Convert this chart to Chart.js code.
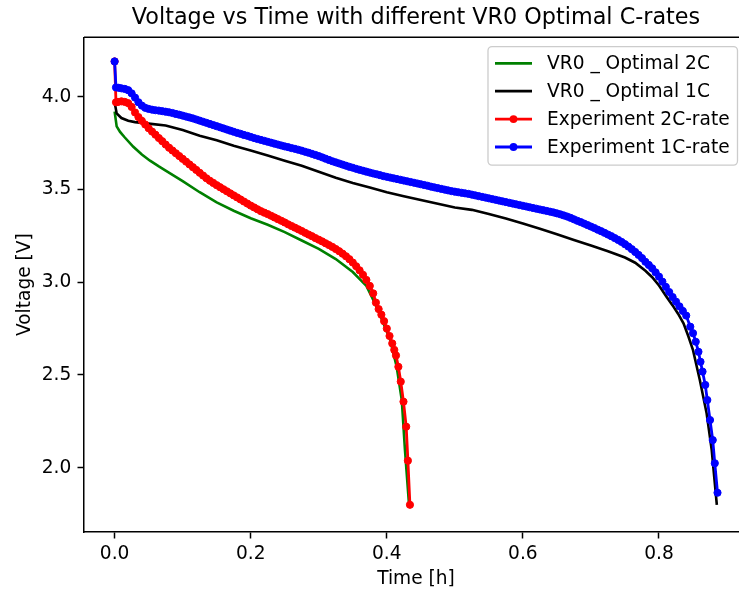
<!DOCTYPE html>
<html>
<head>
<meta charset="utf-8">
<script src="https://cdn.jsdelivr.net/npm/chart.js@4.4.0/dist/chart.umd.min.js"></script>
<style>
  html, body { margin: 0; background: #fff; overflow: hidden; }
  #wrap { width: 739px; height: 591px; overflow: hidden; position: relative; }
  #voltageChart { position: absolute; left: 0; top: 0; }
</style>
</head>
<body>
<div id="wrap"><canvas id="voltageChart" width="790" height="591"></canvas></div>
<script>
// VR0 optimal model, 2C
const modelTime2C = [0, 0.003, 0.008, 0.015, 0.0275, 0.04, 0.052, 0.065, 0.075, 0.1, 0.125, 0.15, 0.175, 0.2, 0.225, 0.25, 0.275, 0.3, 0.325, 0.35, 0.37, 0.378, 0.39, 0.405, 0.4145, 0.422, 0.4267, 0.433];
const modelVolt2C = [3.92, 3.84, 3.81, 3.78, 3.73, 3.688, 3.655, 3.624, 3.602, 3.545, 3.485, 3.43, 3.385, 3.345, 3.31, 3.27, 3.225, 3.18, 3.125, 3.055, 2.98, 2.92, 2.825, 2.688, 2.544, 2.365, 2.095, 1.785];

// VR0 optimal model, 1C
const modelTime1C = [0, 0.003, 0.01, 0.02, 0.03, 0.05, 0.075, 0.1, 0.125, 0.15, 0.175, 0.2, 0.225, 0.25, 0.275, 0.3, 0.325, 0.35, 0.375, 0.4, 0.425, 0.45, 0.475, 0.5, 0.525, 0.55, 0.575, 0.6, 0.625, 0.65, 0.675, 0.7, 0.725, 0.75, 0.765, 0.78, 0.79, 0.8, 0.811, 0.82, 0.828, 0.836, 0.843, 0.85, 0.86, 0.87, 0.8775, 0.885];
const modelVolt1C = [3.97, 3.91, 3.885, 3.87, 3.863, 3.855, 3.845, 3.82, 3.79, 3.765, 3.735, 3.71, 3.683, 3.655, 3.628, 3.595, 3.563, 3.535, 3.51, 3.485, 3.463, 3.443, 3.423, 3.403, 3.39, 3.368, 3.343, 3.316, 3.288, 3.258, 3.228, 3.198, 3.167, 3.133, 3.105, 3.062, 3.027, 2.982, 2.922, 2.875, 2.83, 2.778, 2.71, 2.634, 2.473, 2.293, 2.095, 1.80];

// experiment, 2C-rate
const expTime2C = [0, 0.002, 0.005, 0.01, 0.015, 0.02, 0.025, 0.03, 0.035, 0.04, 0.045, 0.05, 0.055, 0.06, 0.065, 0.07, 0.075, 0.08, 0.085, 0.09, 0.095, 0.1,
  0.105, 0.11, 0.115, 0.12, 0.125, 0.13, 0.135, 0.14, 0.145, 0.15, 0.155, 0.16, 0.165, 0.17, 0.175, 0.18, 0.185, 0.19, 0.195, 0.2,
  0.205, 0.21, 0.215, 0.22, 0.225, 0.23, 0.235, 0.24, 0.245, 0.25, 0.255, 0.26, 0.265, 0.27, 0.275, 0.28, 0.285, 0.29, 0.295, 0.3,
  0.305, 0.31, 0.315, 0.32, 0.325, 0.33, 0.335, 0.34, 0.345, 0.35, 0.355, 0.36, 0.365, 0.37, 0.375, 0.38,
  0.384, 0.388, 0.392, 0.396, 0.4, 0.404, 0.408, 0.411, 0.4135, 0.417, 0.4205, 0.4245, 0.4285, 0.431, 0.434];
const expVolt2C = [4.19, 3.97, 3.972, 3.975, 3.972, 3.965, 3.945, 3.915, 3.89, 3.87, 3.85, 3.83, 3.812, 3.795, 3.777, 3.76, 3.742, 3.725, 3.71, 3.695, 3.68, 3.665,
  3.65, 3.635, 3.62, 3.605, 3.59, 3.575, 3.56, 3.547, 3.535, 3.523, 3.512, 3.501, 3.49, 3.479, 3.468, 3.457, 3.446, 3.435, 3.424, 3.413,
  3.403, 3.393, 3.383, 3.375, 3.367, 3.358, 3.349, 3.34, 3.331, 3.322, 3.312, 3.303, 3.294, 3.285, 3.276, 3.266, 3.257, 3.248, 3.238, 3.229,
  3.22, 3.21, 3.2, 3.19, 3.179, 3.167, 3.154, 3.14, 3.124, 3.106, 3.086, 3.064, 3.04, 3.012, 2.98, 2.94,
  2.89, 2.855, 2.825, 2.79, 2.75, 2.71, 2.67, 2.635, 2.605, 2.544, 2.464, 2.356, 2.221, 2.038, 1.80];

// experiment, 1C-rate
const expTime1C = [0, 0.002, 0.006, 0.01, 0.015, 0.02, 0.025, 0.03, 0.035, 0.04, 0.045,
  0.05, 0.055, 0.06, 0.065, 0.07, 0.075, 0.08, 0.085, 0.09, 0.095, 0.1, 0.105, 0.11, 0.115, 0.12, 0.125, 0.13, 0.135, 0.14, 0.145,
  0.15, 0.155, 0.16, 0.165, 0.17, 0.175, 0.18, 0.185, 0.19, 0.195, 0.2, 0.205, 0.21, 0.215, 0.22, 0.225, 0.23, 0.235, 0.24, 0.245,
  0.25, 0.255, 0.26, 0.265, 0.27, 0.275, 0.28, 0.285, 0.29, 0.295, 0.3, 0.305, 0.31, 0.315, 0.32, 0.325, 0.33, 0.335, 0.34, 0.345,
  0.35, 0.355, 0.36, 0.365, 0.37, 0.375, 0.38, 0.385, 0.39, 0.395, 0.4, 0.405, 0.41, 0.415, 0.42, 0.425, 0.43, 0.435, 0.44, 0.445,
  0.45, 0.455, 0.46, 0.465, 0.47, 0.475, 0.48, 0.485, 0.49, 0.495, 0.5, 0.505, 0.51, 0.515, 0.52, 0.525, 0.53, 0.535, 0.54, 0.545,
  0.55, 0.555, 0.56, 0.565, 0.57, 0.575, 0.58, 0.585, 0.59, 0.595, 0.6, 0.605, 0.61, 0.615, 0.62, 0.625, 0.63, 0.635, 0.64, 0.645,
  0.65, 0.655, 0.66, 0.665, 0.67, 0.675, 0.68, 0.685, 0.69, 0.695, 0.7, 0.705, 0.71, 0.715, 0.72, 0.725, 0.73, 0.735, 0.74, 0.745,
  0.75, 0.755, 0.76, 0.765, 0.77, 0.775, 0.78, 0.785, 0.79, 0.795, 0.8, 0.805, 0.81, 0.815, 0.82, 0.825, 0.83, 0.835, 0.84,
  0.846, 0.85, 0.854, 0.858, 0.861, 0.864, 0.868, 0.871, 0.875, 0.879, 0.882, 0.886];
const expVolt1C = [4.19, 4.05, 4.048, 4.045, 4.042, 4.035, 4.018, 3.995, 3.97, 3.952, 3.94,
  3.934, 3.93, 3.927, 3.925, 3.922, 3.919, 3.916, 3.912, 3.907, 3.903, 3.898, 3.893, 3.888, 3.883, 3.877, 3.871, 3.865, 3.859, 3.853, 3.847,
  3.841, 3.835, 3.829, 3.823, 3.817, 3.811, 3.805, 3.8, 3.794, 3.789, 3.783, 3.777, 3.772, 3.767, 3.762, 3.757, 3.752, 3.747, 3.742, 3.737,
  3.732, 3.728, 3.723, 3.719, 3.714, 3.709, 3.703, 3.698, 3.692, 3.686, 3.68, 3.673, 3.666, 3.659, 3.652, 3.646, 3.64, 3.634, 3.628, 3.622,
  3.617, 3.611, 3.606, 3.601, 3.596, 3.591, 3.586, 3.582, 3.577, 3.572, 3.568, 3.564, 3.56, 3.556, 3.552, 3.548, 3.544, 3.54, 3.536, 3.532,
  3.528, 3.524, 3.52, 3.515, 3.511, 3.507, 3.503, 3.499, 3.495, 3.491, 3.488, 3.485, 3.482, 3.479, 3.476, 3.472, 3.468, 3.464, 3.46, 3.456,
  3.452, 3.448, 3.444, 3.44, 3.436, 3.432, 3.428, 3.424, 3.42, 3.416, 3.412, 3.408, 3.404, 3.4, 3.396, 3.392, 3.388, 3.384, 3.38, 3.376,
  3.371, 3.366, 3.36, 3.354, 3.347, 3.339, 3.331, 3.324, 3.316, 3.308, 3.3, 3.292, 3.283, 3.275, 3.266, 3.257, 3.248, 3.238, 3.228, 3.217,
  3.205, 3.192, 3.178, 3.163, 3.147, 3.13, 3.11, 3.093, 3.075, 3.053, 3.03, 3.003, 2.975, 2.947, 2.92, 2.895, 2.87, 2.845, 2.82,
  2.76, 2.725, 2.679, 2.625, 2.571, 2.518, 2.446, 2.365, 2.257, 2.149, 2.024, 1.865];

// axis ticks
const xTicks = [0.0, 0.2, 0.4, 0.6, 0.8];
const yTicks = [2.0, 2.5, 3.0, 3.5, 4.0];

const toPoints = (times, volts) => times.map((t, i) => ({ x: t, y: volts[i] }));

// legend entries in matplotlib order
const legendItems = [
  { label: "VR0 _ Optimal 2C", color: "#008000", marker: false },
  { label: "VR0 _ Optimal 1C", color: "#000000", marker: false },
  { label: "Experiment 2C-rate", color: "#ff0000", marker: true },
  { label: "Experiment 1C-rate", color: "#0000ff", marker: true },
];

// top spine + legend in the upper right corner
const frameAndLegend = {
  id: "frameAndLegend",
  afterDraw(chart) {
    const { ctx, chartArea } = chart;
    ctx.save();
    ctx.strokeStyle = "#000";
    ctx.lineWidth = 1.5;
    ctx.beginPath();
    ctx.moveTo(chartArea.left, chartArea.top);
    ctx.lineTo(chartArea.right, chartArea.top);
    ctx.stroke();

    const boxLeft = 488, boxTop = 46.6, boxW = 249.5, boxH = 118.5;
    ctx.beginPath();
    ctx.roundRect(boxLeft, boxTop, boxW, boxH, 4);
    ctx.fillStyle = "rgba(255,255,255,0.8)";
    ctx.fill();
    ctx.strokeStyle = "#cccccc";
    ctx.lineWidth = 1.3;
    ctx.stroke();

    ctx.font = "18.6px 'DejaVu Sans'";
    ctx.textBaseline = "middle";
    legendItems.forEach((item, i) => {
      const y = 63.3 + i * 27.9;
      ctx.strokeStyle = item.color;
      ctx.lineWidth = 2.8;
      ctx.beginPath();
      ctx.moveTo(495, y);
      ctx.lineTo(532, y);
      ctx.stroke();
      if (item.marker) {
        ctx.fillStyle = item.color;
        ctx.beginPath();
        ctx.arc(513.5, y, 3.9, 0, Math.PI * 2);
        ctx.fill();
      }
      ctx.fillStyle = "#000";
      ctx.fillText(item.label, 547, y + 1);
    });
    ctx.restore();
  },
};

Chart.defaults.font.family = "'DejaVu Sans', sans-serif";
Chart.defaults.color = "#000";

const ctx = document.getElementById("voltageChart");

new Chart(ctx, {
  type: "line",
  data: {
    datasets: [
      {
        label: "VR0 _ Optimal 2C",
        data: toPoints(modelTime2C, modelVolt2C),
        borderColor: "#008000",
        borderWidth: 2.6,
        pointRadius: 0,
        order: 3,
      },
      {
        label: "VR0 _ Optimal 1C",
        data: toPoints(modelTime1C, modelVolt1C),
        borderColor: "#000000",
        borderWidth: 2.6,
        pointRadius: 0,
        order: 2,
      },
      {
        label: "Experiment 2C-rate",
        data: toPoints(expTime2C, expVolt2C),
        borderColor: "#ff0000",
        backgroundColor: "#ff0000",
        borderWidth: 2.8,
        pointRadius: 3.6,
        pointBorderWidth: 1,
        order: 1,
      },
      {
        label: "Experiment 1C-rate",
        data: toPoints(expTime1C, expVolt1C),
        borderColor: "#0000ff",
        backgroundColor: "#0000ff",
        borderWidth: 2.8,
        pointRadius: 3.6,
        pointBorderWidth: 1,
        order: 0,
      },
    ],
  },
  options: {
    responsive: false,
    animation: false,
    layout: { padding: { left: 0, right: 42, top: 0, bottom: 0 } },
    plugins: {
      legend: { display: false },
      tooltip: { enabled: false },
      title: {
        display: true,
        text: "Voltage vs Time with different VR0 Optimal C-rates",
        fullSize: false,
        color: "#000",
        font: { size: 22.3, weight: "normal", lineHeight: 1.2 },
        padding: { top: 5, bottom: 5.5 },
      },
    },
    scales: {
      x: {
        type: "linear",
        min: -0.045,
        max: 0.9308,
        afterFit: (scale) => { scale.height = 59; },
        afterBuildTicks: (axis) => { axis.ticks = xTicks.map((v) => ({ value: v })); },
        ticks: {
          callback: (v) => v.toFixed(1),
          font: { size: 18.6 },
          padding: 5,
          maxRotation: 0,
          autoSkip: false,
        },
        grid: { drawOnChartArea: false, tickLength: 6.5, tickWidth: 1.5, tickColor: "#000" },
        border: { color: "#000", width: 1.5 },
        title: { display: true, text: "Time [h]", font: { size: 18.6 }, padding: { top: 0, bottom: 1 } },
      },
      y: {
        type: "linear",
        min: 1.6534,
        max: 4.3204,
        afterFit: (scale) => { scale.width = 84; },
        afterBuildTicks: (axis) => { axis.ticks = yTicks.map((v) => ({ value: v })); },
        ticks: {
          callback: (v) => v.toFixed(1),
          font: { size: 18.6 },
          padding: 6.2,
        },
        grid: { drawOnChartArea: false, tickLength: 6.5, tickWidth: 1.5, tickColor: "#000" },
        border: { color: "#000", width: 1.5 },
        title: { display: true, text: "Voltage [V]", font: { size: 18.6 }, padding: { top: 14, bottom: 0 } },
      },
    },
  },
  plugins: [frameAndLegend],
});
</script>
</body>
</html>
